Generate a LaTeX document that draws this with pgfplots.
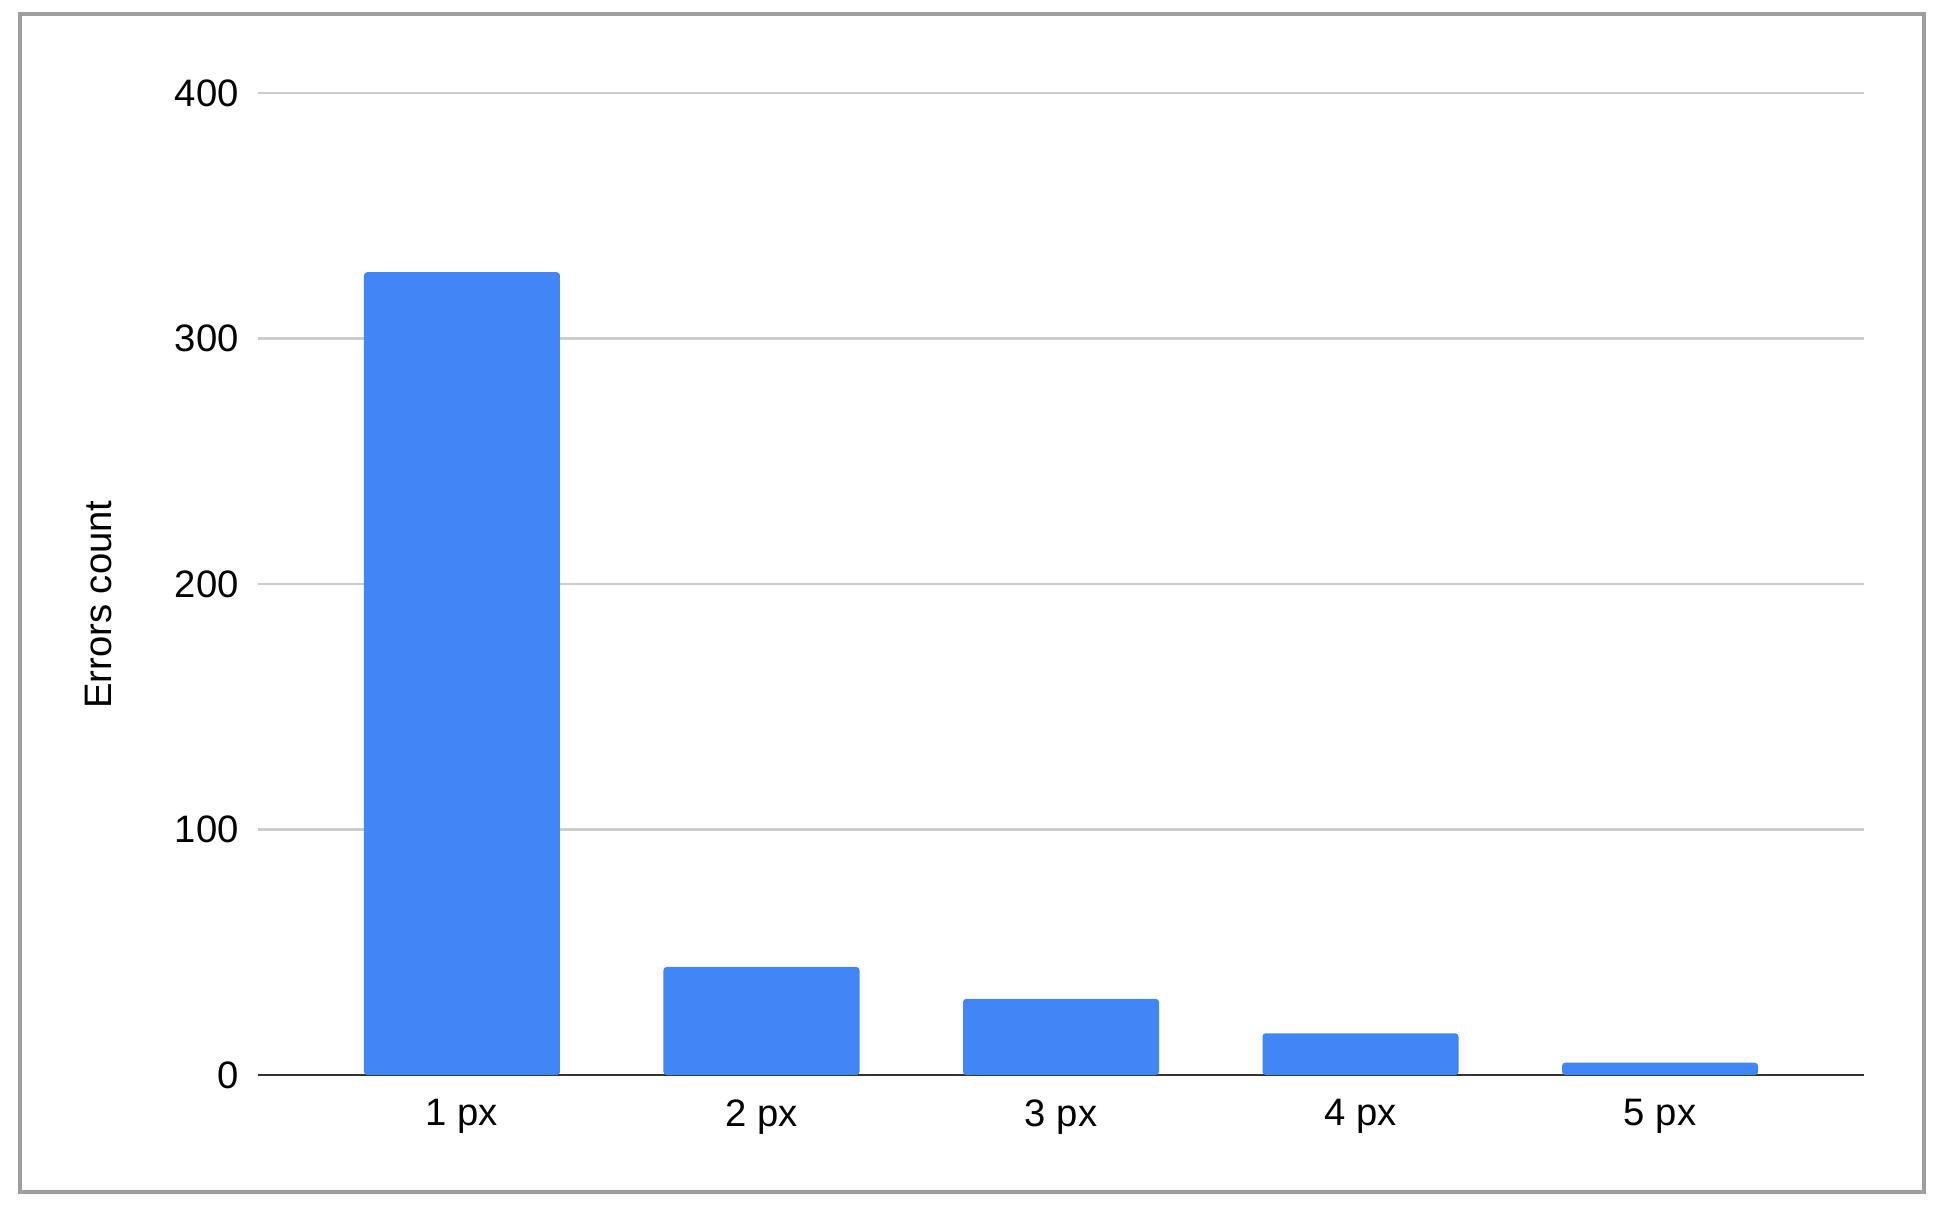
\documentclass[border=0pt]{standalone}
\usepackage{fontspec}
\setmainfont{Liberation Sans}
\usepackage{pgfplots}
\pgfplotsset{compat=1.18}
\definecolor{barblue}{HTML}{4285F4}
\definecolor{gridgray}{HTML}{CCCCCC}
\definecolor{framegray}{HTML}{9E9E9E}
\definecolor{axisdark}{HTML}{333333}

\begin{document}
\begin{tikzpicture}
\useasboundingbox (0,0) rectangle (485.5bp,302.75bp);
\draw[framegray, line width=1bp] (5bp,4.75bp) rectangle (480.9bp,299.25bp);
\begin{axis}[
  at={(64.5bp,34bp)}, anchor=south west,
  scale only axis, width=401.5bp, height=245.5bp,
  font=\fontsize{9.6}{11.5}\selectfont,
  xmin=-0.681, xmax=4.681, ymin=0, ymax=400,
  axis x line*=bottom, axis y line*=left,
  x axis line style={-, draw=axisdark, line width=0.7bp},
  y axis line style={draw=none},
  major tick length=0pt,
  xtick={0,1,2,3,4},
  xticklabels={1 px,2 px,3 px,4 px,5 px},
  ytick={0,100,200,300,400},
  yticklabels={0,100,200,300,400},
  xticklabel style={inner sep=0pt, anchor=north, yshift=-5.9bp},
  yticklabel style={inner sep=0pt, anchor=east, xshift=-4.6bp},
  ymajorgrids, grid style={gridgray, line width=0.6bp},
  ylabel={Errors count},
  y label style={at={(axis description cs:-0.099,0.479)}, anchor=center, rotate=0},
  ybar, bar width=49bp,
  clip=false,
]
\addplot[fill=barblue, draw=none, rounded corners=0.8bp] coordinates {
  (0,327) (1,44) (2,31) (3,17) (4,5)
};
\end{axis}
\end{tikzpicture}
\end{document}
